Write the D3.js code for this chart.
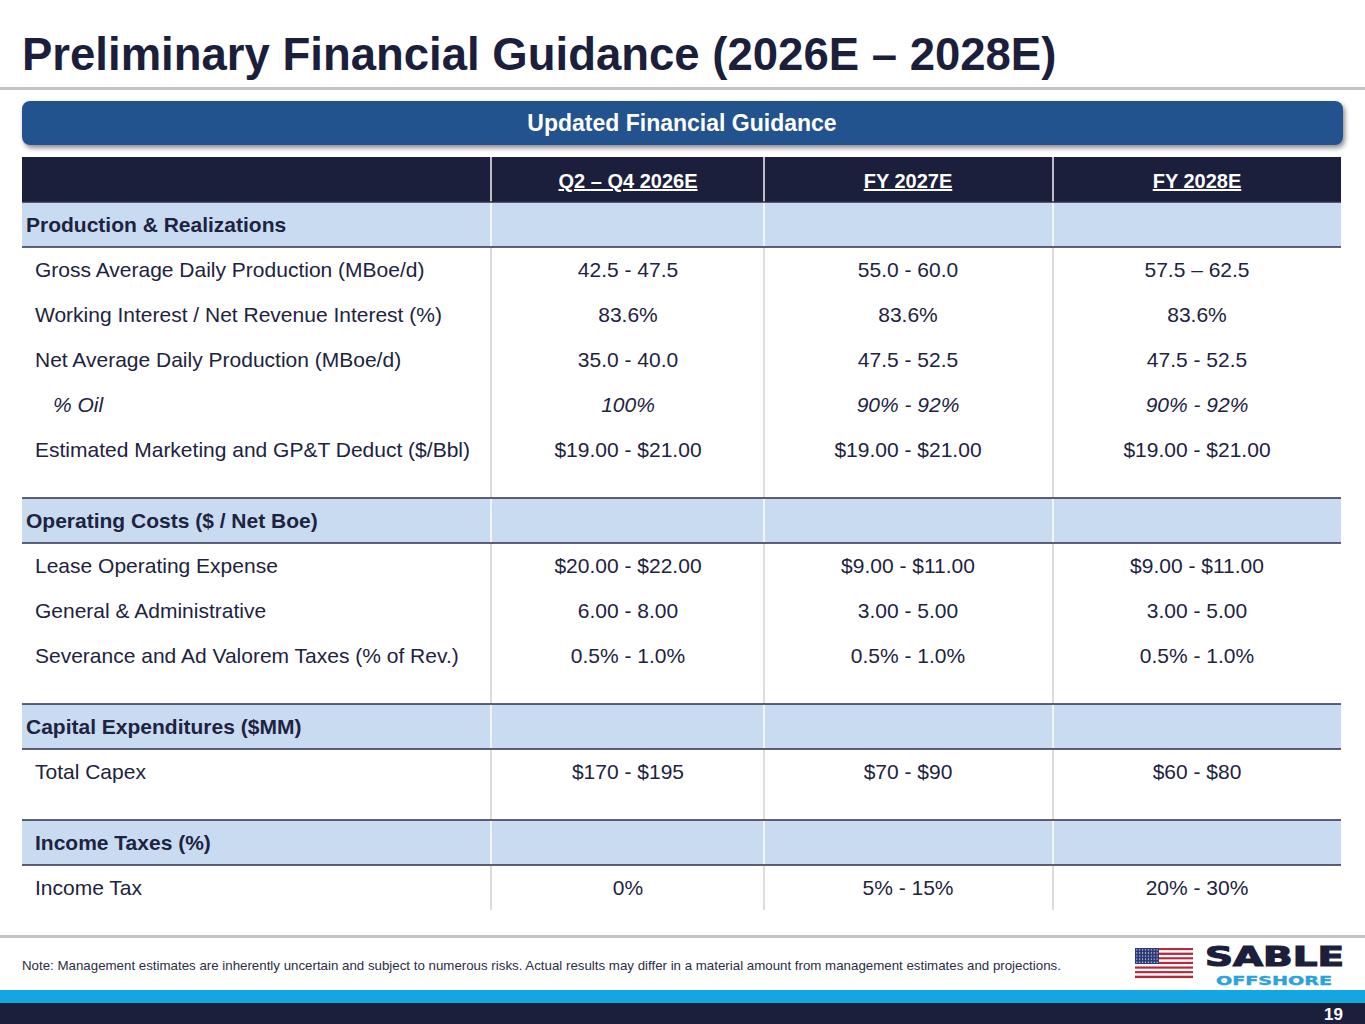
<!DOCTYPE html>
<html>
<head>
<meta charset="utf-8">
<script src="https://cdn.jsdelivr.net/npm/d3@7"></script>
<style>
  body { margin: 0; background: #fff; }
  svg { display: block; font-family: "Liberation Sans", Arial, sans-serif; }
</style>
</head>
<body>
<script>
// Table content
const columns = ["Q2 \u2013 Q4 2026E", "FY 2027E", "FY 2028E"]

const sections = ["Production & Realizations", "Operating Costs ($ / Net Boe)", "Capital Expenditures ($MM)", "Income Taxes (%)"]

const rowSection = [0, 0, 0, 0, 0, 1, 1, 1, 2, 3]
const rowLabels = [
  "Gross Average Daily Production (MBoe/d)",
  "Working Interest / Net Revenue Interest (%)",
  "Net Average Daily Production (MBoe/d)",
  "% Oil",
  "Estimated Marketing and GP&T Deduct ($/Bbl)",
  "Lease Operating Expense",
  "General & Administrative",
  "Severance and Ad Valorem Taxes (% of Rev.)",
  "Total Capex",
  "Income Tax"
]
const q2q4_2026 = ["42.5 - 47.5", "83.6%", "35.0 - 40.0", "100%", "$19.00 - $21.00", "$20.00 - $22.00", "6.00 - 8.00", "0.5% - 1.0%", "$170 - $195", "0%"]
const fy2027 = ["55.0 - 60.0", "83.6%", "47.5 - 52.5", "90% - 92%", "$19.00 - $21.00", "$9.00 - $11.00", "3.00 - 5.00", "0.5% - 1.0%", "$70 - $90", "5% - 15%"]
const fy2028 = ["57.5 \u2013 62.5", "83.6%", "47.5 - 52.5", "90% - 92%", "$19.00 - $21.00", "$9.00 - $11.00", "3.00 - 5.00", "0.5% - 1.0%", "$60 - $80", "20% - 30%"]

const navy = "#1c1f3b", textCol = "#1d2340", sectionFill = "#c9dbf1"

const W = 1365, H = 1024
const svg = d3.select("body").append("svg").attr("width", W).attr("height", H)

const defs = svg.append("defs")
const f = defs.append("filter").attr("id", "shadow").attr("x", "-5%").attr("y", "-30%").attr("width", "110%").attr("height", "180%")
f.append("feDropShadow").attr("dx", 2).attr("dy", 3).attr("stdDeviation", 2.5).attr("flood-color", "#000").attr("flood-opacity", 0.45)

// title
svg.append("text").attr("x", 22).attr("y", 70)
  .attr("font-size", 45.5).attr("font-weight", "bold").attr("fill", navy)
  .text("Preliminary Financial Guidance (2026E \u2013 2028E)")
svg.append("rect").attr("x", 0).attr("y", 87).attr("width", W).attr("height", 3).attr("fill", "#c4c4c4")

// banner
svg.append("rect").attr("x", 22).attr("y", 101).attr("width", 1321).attr("height", 44).attr("rx", 8)
  .attr("fill", "#22538f").attr("filter", "url(#shadow)")
svg.append("text").attr("x", 682).attr("y", 131).attr("text-anchor", "middle")
  .attr("font-size", 23).attr("font-weight", "bold").attr("fill", "#fff")
  .text("Updated Financial Guidance")

// build table rows: header, section, data, spacer
const rows = [{ type: "header" }]
sections.forEach((s, si) => {
  if (si > 0) rows.push({ type: "spacer" })
  rows.push({ type: "section", label: s, indent: si === 3 })
  rowLabels.forEach((l, i) => {
    if (rowSection[i] === si)
      rows.push({ type: "data", label: l, vals: [q2q4_2026[i], fy2027[i], fy2028[i]], italic: l === "% Oil" })
  })
})
const rowH = { header: 45, section: 45, data: 45, spacer: 26 }
let yy = 157
rows.forEach(r => { r.y = yy; r.h = rowH[r.type]; yy += r.h })

const colEdges = [22, 491, 764, 1053, 1341]
const x = d3.scaleOrdinal().domain(columns).range([628, 908, 1197])

const table = svg.append("g")

// backgrounds
table.selectAll("rect.bg").data(rows.filter(r => r.type === "header" || r.type === "section"))
  .join("rect").attr("class", "bg")
  .attr("x", colEdges[0]).attr("y", d => d.y)
  .attr("width", colEdges[4] - colEdges[0]).attr("height", d => d.h)
  .attr("fill", d => d.type === "header" ? navy : sectionFill)

// column dividers per row
rows.forEach(r => {
  colEdges.slice(1, 4).forEach(cx => {
    table.append("line").attr("x1", cx).attr("x2", cx).attr("y1", r.y).attr("y2", r.y + r.h)
      .attr("stroke", r.type === "data" || r.type === "spacer" ? "#dcdcdc" : "#f2f4f8")
      .attr("stroke-width", r.type === "header" ? 1.5 : 2)
  })
})

// section borders
rows.filter(r => r.type === "section").forEach(r => {
  [r.y, r.y + r.h].forEach(ly => {
    table.append("line").attr("x1", colEdges[0]).attr("x2", colEdges[4]).attr("y1", ly).attr("y2", ly)
      .attr("stroke", "#2b2f4c").attr("stroke-width", 1.5)
  })
})

// header text
const hdr = rows[0]
table.selectAll("text.hdr").data(columns).join("text").attr("class", "hdr")
  .attr("x", d => x(d)).attr("y", hdr.y + 31).attr("text-anchor", "middle")
  .attr("font-size", 20).attr("font-weight", "bold").attr("fill", "#fff")
  .attr("text-decoration", "underline")
  .text(d => d)

// section labels
table.selectAll("text.sec").data(rows.filter(r => r.type === "section")).join("text").attr("class", "sec")
  .attr("x", d => d.indent ? 35 : 26).attr("y", d => d.y + 30)
  .attr("font-size", 21).attr("font-weight", "bold").attr("fill", textCol)
  .text(d => d.label)

// data rows
const dataRows = rows.filter(r => r.type === "data")
table.selectAll("text.lbl").data(dataRows).join("text").attr("class", "lbl")
  .attr("x", d => d.italic ? 53 : 35).attr("y", d => d.y + 30)
  .attr("font-size", 21).attr("fill", textCol)
  .attr("font-style", d => d.italic ? "italic" : null)
  .text(d => d.label)

dataRows.forEach(r => {
  r.vals.forEach((v, j) => {
    table.append("text").attr("x", x(columns[j])).attr("y", r.y + 30).attr("text-anchor", "middle")
      .attr("font-size", 21).attr("fill", textCol)
      .attr("font-style", r.italic ? "italic" : null)
      .text(v)
  })
})

// footer
svg.append("rect").attr("x", 0).attr("y", 935).attr("width", W).attr("height", 3).attr("fill", "#c4c4c4")
svg.append("text").attr("x", 22).attr("y", 970).attr("font-size", 13.3).attr("fill", "#2a2d45")
  .text("Note: Management estimates are inherently uncertain and subject to numerous risks. Actual results may differ in a material amount from management estimates and projections.")

// logo: flag
const flag = svg.append("g").attr("transform", "translate(1135,948)")
d3.range(13).forEach(i => {
  flag.append("rect").attr("x", 0).attr("y", i * 30 / 13).attr("width", 58).attr("height", 30 / 13 + 0.1)
    .attr("fill", i % 2 === 0 ? "#b8283b" : "#fff")
})
flag.append("rect").attr("width", 24).attr("height", 16).attr("fill", "#2c3a75")
d3.range(5).forEach(r => d3.range(8).forEach(c => {
  flag.append("circle").attr("cx", 1.8 + c * 2.9).attr("cy", 1.8 + r * 3.1).attr("r", 0.6).attr("fill", "#fff")
}))
svg.append("text").attr("x", 1205).attr("y", 966).attr("font-size", 27).attr("font-weight", "bold")
  .attr("font-family", "'DejaVu Sans', sans-serif").attr("fill", navy)
  .attr("stroke", navy).attr("stroke-width", 1.2)
  .attr("textLength", 139).attr("lengthAdjust", "spacingAndGlyphs").text("SABLE")
svg.append("text").attr("x", 1216).attr("y", 984.5).attr("font-size", 12).attr("font-weight", "bold")
  .attr("font-family", "'DejaVu Sans', sans-serif").attr("fill", "#2aa3dc")
  .attr("stroke", "#2aa3dc").attr("stroke-width", 0.4)
  .attr("textLength", 116).attr("lengthAdjust", "spacingAndGlyphs").text("OFFSHORE")

// bottom bands
svg.append("rect").attr("x", 0).attr("y", 990).attr("width", W).attr("height", 13).attr("fill", "#14a6e0")
svg.append("rect").attr("x", 0).attr("y", 1003).attr("width", W).attr("height", 21).attr("fill", navy)
svg.append("text").attr("x", 1343).attr("y", 1020).attr("text-anchor", "end")
  .attr("font-size", 17).attr("font-weight", "bold").attr("fill", "#fff").text("19")
</script>
</body>
</html>
